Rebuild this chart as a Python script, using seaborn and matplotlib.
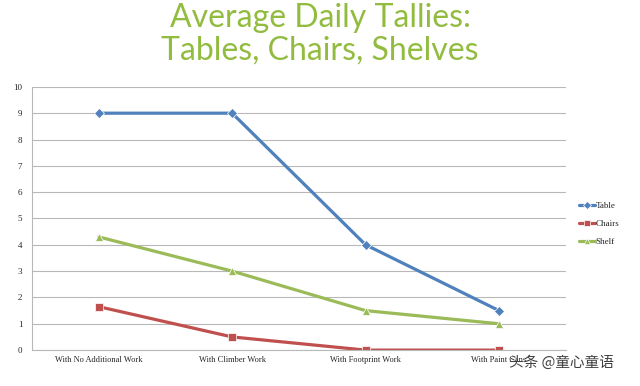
import pandas as pd
import matplotlib.pyplot as plt
import seaborn as sns

categories = ['With No Additional Work', 'With Climber Work', 'With Footprint Work', 'With Paint Cans']
table = [9, 9, 4, 1.5]
chairs = [1.65, 0.5, 0, 0]
shelf = [4.3, 3, 1.5, 1]

df = pd.DataFrame({
    'work': categories * 3,
    'tally': table + chairs + shelf,
    'item': ['Table'] * 4 + ['Chairs'] * 4 + ['Shelf'] * 4,
})

sns.set_style('white')
plt.rcParams['font.family'] = ['Liberation Serif', 'DejaVu Serif']

fig = plt.figure(figsize=(6.4, 3.86), dpi=100)
ax = fig.add_axes([0.05, 0.093, 0.834, 0.682])

palette = {'Table': '#4f81bd', 'Chairs': '#c0504d', 'Shelf': '#9bbb59'}
markers = {'Table': 'D', 'Chairs': 's', 'Shelf': '^'}
sns.lineplot(data=df, x='work', y='tally', hue='item', style='item',
             palette=palette, markers=markers, dashes=False, sort=False,
             linewidth=2.3, markersize=5.5, markeredgewidth=0.5, ax=ax)

ax.set_xlim(-0.5, 3.5)
ax.set_ylim(0, 10)
ax.set_yticks(range(0, 11))
ax.yaxis.grid(True, color='#b8b8b8', linewidth=0.8)
ax.set_axisbelow(True)
for s in ['top', 'right']:
    ax.spines[s].set_visible(False)
for s in ['left', 'bottom']:
    ax.spines[s].set_color('#b8b8b8')
    ax.spines[s].set_linewidth(0.8)
ax.set_xticks([0, 1, 2, 3])
ax.set_xticks([0.5, 1.5, 2.5, 3.5], minor=True)
ax.tick_params(axis='x', which='major', length=0, labelsize=6, pad=4)
ax.tick_params(axis='x', which='minor', length=3, color='#b8b8b8', direction='in')
ax.tick_params(axis='y', length=3, color='#b8b8b8', labelsize=6.5, pad=4)
ax.set_xlabel('')
ax.set_ylabel('')

ax.legend(loc='center left', bbox_to_anchor=(1.01, 0.48), frameon=False,
          fontsize=6.5, handlelength=1.8, handletextpad=0.0, labelspacing=1.05,
          markerscale=0.7)

fig.text(0.5, 0.953, 'Average Daily Tallies:', ha='center', va='center',
         fontsize=23, color='#92bc3f', family=['Lato', 'DejaVu Sans'])
fig.text(0.5, 0.868, 'Tables, Chairs, Shelves', ha='center', va='center',
         fontsize=23, color='#92bc3f', family=['Lato', 'DejaVu Sans'])

fig.text(0.795, 0.06, '头条 @童心童语', ha='left', va='center', fontsize=10.5,
         color='#404040', family=['Noto Sans CJK SC', 'DejaVu Sans'])

fig.savefig('out.png', dpi=100)
